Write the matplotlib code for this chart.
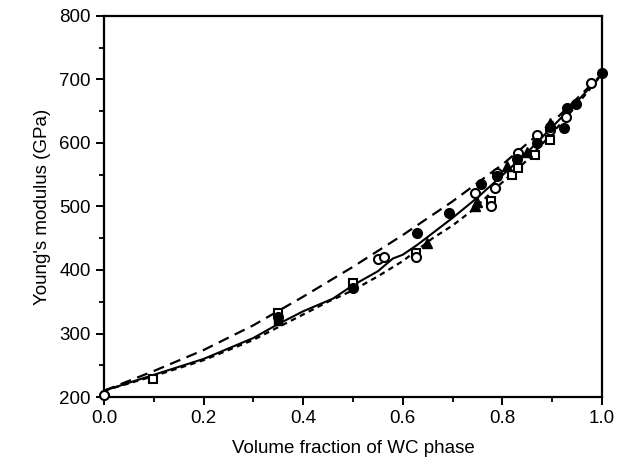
import matplotlib
matplotlib.use("Agg")
import matplotlib.pyplot as plt
from matplotlib.ticker import MultipleLocator

plt.rcParams['font.family'] = ['Liberation Sans', 'DejaVu Sans']

# Model curves (volume fraction, Young's modulus in GPa)
x_upper = [0.0, 0.1, 0.2, 0.3, 0.4, 0.5, 0.6, 0.7, 0.8, 0.9, 1.0]
y_upper = [210, 241, 274, 313, 358, 405, 455, 508, 566, 632, 708]

x_mid = [0.0, 0.1, 0.2, 0.3, 0.35, 0.4, 0.46, 0.5, 0.55, 0.58, 0.6, 0.63,
         0.7, 0.75, 0.8, 0.85, 0.9, 0.95, 1.0]
y_mid = [210, 235, 260, 293, 315, 335, 355, 376, 398, 418, 424, 440,
         482, 514, 549, 585, 625, 665, 708]

x_low = [0.0, 0.1, 0.2, 0.3, 0.4, 0.45, 0.5, 0.55, 0.6, 0.66, 0.7, 0.74,
         0.79, 0.85, 0.9, 0.95, 1.0]
y_low = [210, 233, 258, 290, 330, 350, 368, 390, 414, 450, 470, 494,
         531, 573, 615, 660, 708]

# Measured data
x_fcirc = [0.35, 0.5, 0.628, 0.692, 0.758, 0.79, 0.83, 0.87, 0.896, 0.924, 0.93, 0.948, 1.0]
y_fcirc = [326, 372, 458, 489, 536, 548, 575, 600, 625, 624, 655, 662, 710]

x_ocirc = [0.0, 0.551, 0.562, 0.627, 0.745, 0.778, 0.785, 0.79, 0.832, 0.869, 0.896, 0.928, 0.978]
y_ocirc = [203, 417, 420, 420, 521, 500, 529, 552, 584, 613, 620, 641, 695]

x_osq = [0.099, 0.35, 0.5, 0.627, 0.778, 0.819, 0.831, 0.865, 0.896]
y_osq = [228, 332, 380, 427, 508, 550, 561, 581, 605]

x_ftri = [0.648, 0.745, 0.75, 0.809, 0.85, 0.896]
y_ftri = [443, 500, 507, 563, 585, 631]

x_fsq = [0.35, 0.5]
y_fsq = [320, 377]

fig = plt.figure(figsize=(6.27, 4.66), dpi=100)
ax = fig.add_axes([0.166, 0.148, 0.794, 0.818])

ax.plot(x_upper, y_upper, color='black', lw=1.6, dashes=(5, 3))
ax.plot(x_mid, y_mid, color='black', lw=1.5)
ax.plot(x_low, y_low, color='black', lw=1.6, dashes=(2.5, 2))

ax.plot(x_fsq, y_fsq, 's', ms=6, color='black', ls='none')
ax.plot(x_osq, y_osq, 's', ms=6, mfc='white', mec='black', mew=1.5, ls='none')
ax.plot(x_ftri, y_ftri, '^', ms=6.5, color='black', ls='none')
ax.plot(x_ocirc, y_ocirc, 'o', ms=6.5, mfc='white', mec='black', mew=1.5, ls='none',
        clip_on=False, zorder=3)
ax.plot(x_fcirc, y_fcirc, 'o', ms=7, color='black', ls='none', clip_on=False, zorder=3)

ax.set_xlim(0, 1.0)
ax.set_ylim(200, 800)
ax.xaxis.set_minor_locator(MultipleLocator(0.1))
ax.yaxis.set_major_locator(MultipleLocator(100))
ax.yaxis.set_minor_locator(MultipleLocator(50))
ax.set_xticks([0.0, 0.2, 0.4, 0.6, 0.8, 1.0])
ax.set_xticklabels(['0.0', '0.2', '0.4', '0.6', '0.8', '1.0'])

for s in ax.spines.values():
    s.set_linewidth(1.6)
ax.tick_params(which='major', direction='out', length=6, width=1.4, labelsize=13.5)
ax.tick_params(which='minor', direction='out', length=3.5, width=1.3)

ax.set_xlabel('Volume fraction of WC phase', fontsize=13.5, labelpad=9)
ax.set_ylabel("Young's modulus (GPa)", fontsize=13.5, labelpad=6)

fig.savefig('out.png', dpi=100)
